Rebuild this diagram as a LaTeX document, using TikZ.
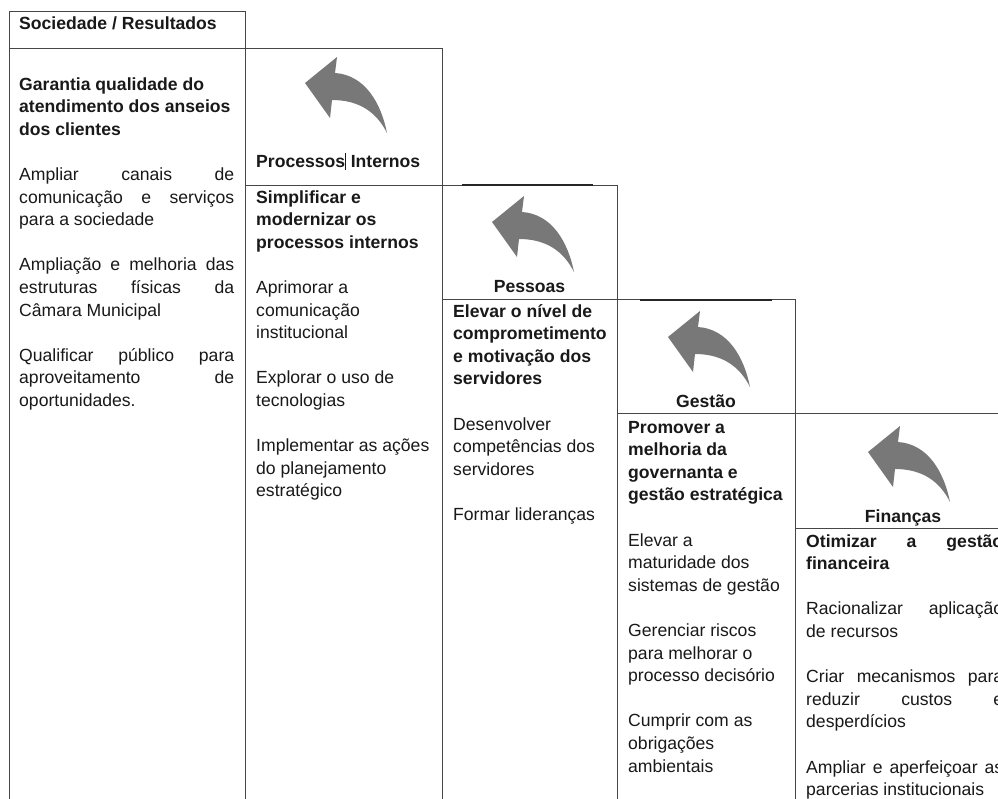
\documentclass[tikz,border=0pt]{standalone}
\usepackage{fontspec}
\setmainfont{Liberation Sans}
\definecolor{linegray}{RGB}{70,70,70}
\definecolor{arrowgray}{RGB}{120,120,120}
\definecolor{textgray}{RGB}{25,25,25}
\newcommand{\jline}[2][215pt]{{\spaceskip=0pt\xspaceskip=0pt\makebox[#1][s]{#2}}}

\begin{document}
\begin{tikzpicture}[x=1pt,y=-1pt,
    rule/.style={draw=linegray, line width=0.9pt},
    heavy/.style={draw=black!85, line width=1.8pt},
    pics/backarrow/.style={code={
      \fill[arrowgray] (0,0) -- (32,-26) -- (30,-10)
        .. controls (60,-8) and (76,20) .. (82,50)
        .. controls (72,30) and (55,17) .. (27,17)
        -- (25,35) -- cycle;
    }}]

      \path[use as bounding box, fill=white] (0,0) rectangle (998,798);
      \clip (0,0) rectangle (998,798);

      % columns
      \begin{scope}[rule]
        \draw (9,11)    rectangle (245,805);
        \draw (245,48)  rectangle (442,805);
        \draw (442,185) rectangle (617,805);
        \draw (617,299) rectangle (795,805);
        \draw (795,413) rectangle (1011,805);
        \draw (9,48)    -- (245,48);
        \draw (245,185) -- (442,185);
        \draw (442,299) -- (617,299);
        \draw (617,413) -- (795,413);
        \draw (795,528) -- (1011,528);
      \end{scope}
      \draw[heavy] (462,185) -- (593,185);
      \draw[heavy] (640,300) -- (772,300);

      % arrows
      \pic at (305,83)  {backarrow};
      \pic at (492,222) {backarrow};
      \pic at (668,337) {backarrow};
      \pic at (868,452) {backarrow};

      \begin{scope}[every node/.style={anchor=base west, inner sep=0pt, text=textgray,
          align=flush left, text width=230pt, font=\fontsize{17.6}{22.6}\selectfont}]

        % headers
        \node (h1) at (19,29)  {\textbf{Sociedade / Resultados}};
        \node (h2) at (256,167) {\textbf{Processos}\rule[-3pt]{0.7pt}{17pt} \textbf{Internos}};
        \node[anchor=base, align=flush center, text width=170pt] (h3) at (529.5,292) {\textbf{Pessoas}};
        \node[anchor=base, align=flush center, text width=170pt] (h4) at (706,407) {\textbf{Gestão}};
        \node[anchor=base, align=flush center, text width=170pt] (h5) at (903,522) {\textbf{Finanças}};

        % column texts
        \node (t1) at (19,90) {\textbf{Garantia qualidade do}\\
          \textbf{atendimento dos anseios}\\
          \textbf{dos clientes}\\[22.6pt]
          \jline{Ampliar canais de}\\
          \jline{comunicação e serviços}\\
          para a sociedade\\[22.6pt]
          \jline{Ampliação e melhoria das}\\
          \jline{estruturas físicas da}\\
          Câmara Municipal\\[22.6pt]
          \jline{Qualificar público para}\\
          \jline{aproveitamento de}\\
          oportunidades.};

        \node (t2) at (256,203) {\textbf{Simplificar e}\\
          \textbf{modernizar os}\\
          \textbf{processos internos}\\[22.6pt]
          Aprimorar a\\
          comunicação\\
          institucional\\[22.6pt]
          Explorar o uso de\\
          tecnologias\\[22.6pt]
          Implementar as ações\\
          do planejamento\\
          estratégico};

        \node (t3) at (453,317) {\textbf{Elevar o nível de}\\
          \textbf{comprometimento}\\
          \textbf{e motivação dos}\\
          \textbf{servidores}\\[22.6pt]
          Desenvolver\\
          competências dos\\
          servidores\\[22.6pt]
          Formar lideranças};

        \node (t4) at (628,433) {\textbf{Promover a}\\
          \textbf{melhoria da}\\
          \textbf{governanta e}\\
          \textbf{gestão estratégica}\\[22.6pt]
          Elevar a\\
          maturidade dos\\
          sistemas de gestão\\[22.6pt]
          Gerenciar riscos\\
          para melhorar o\\
          processo decisório\\[22.6pt]
          Cumprir com as\\
          obrigações\\
          ambientais};

        \node (t5) at (806,547) {\textbf{\jline[197pt]{Otimizar a gestão}}\\
          \textbf{financeira}\\[22.6pt]
          \jline[197pt]{Racionalizar aplicação}\\
          de recursos\\[22.6pt]
          \jline[197pt]{Criar mecanismos para}\\
          \jline[197pt]{reduzir custos e}\\
          desperdícios\\[22.6pt]
          \jline[197pt]{Ampliar e aperfeiçoar as}\\
          parcerias institucionais};
      \end{scope}

    \end{tikzpicture}
\end{document}
